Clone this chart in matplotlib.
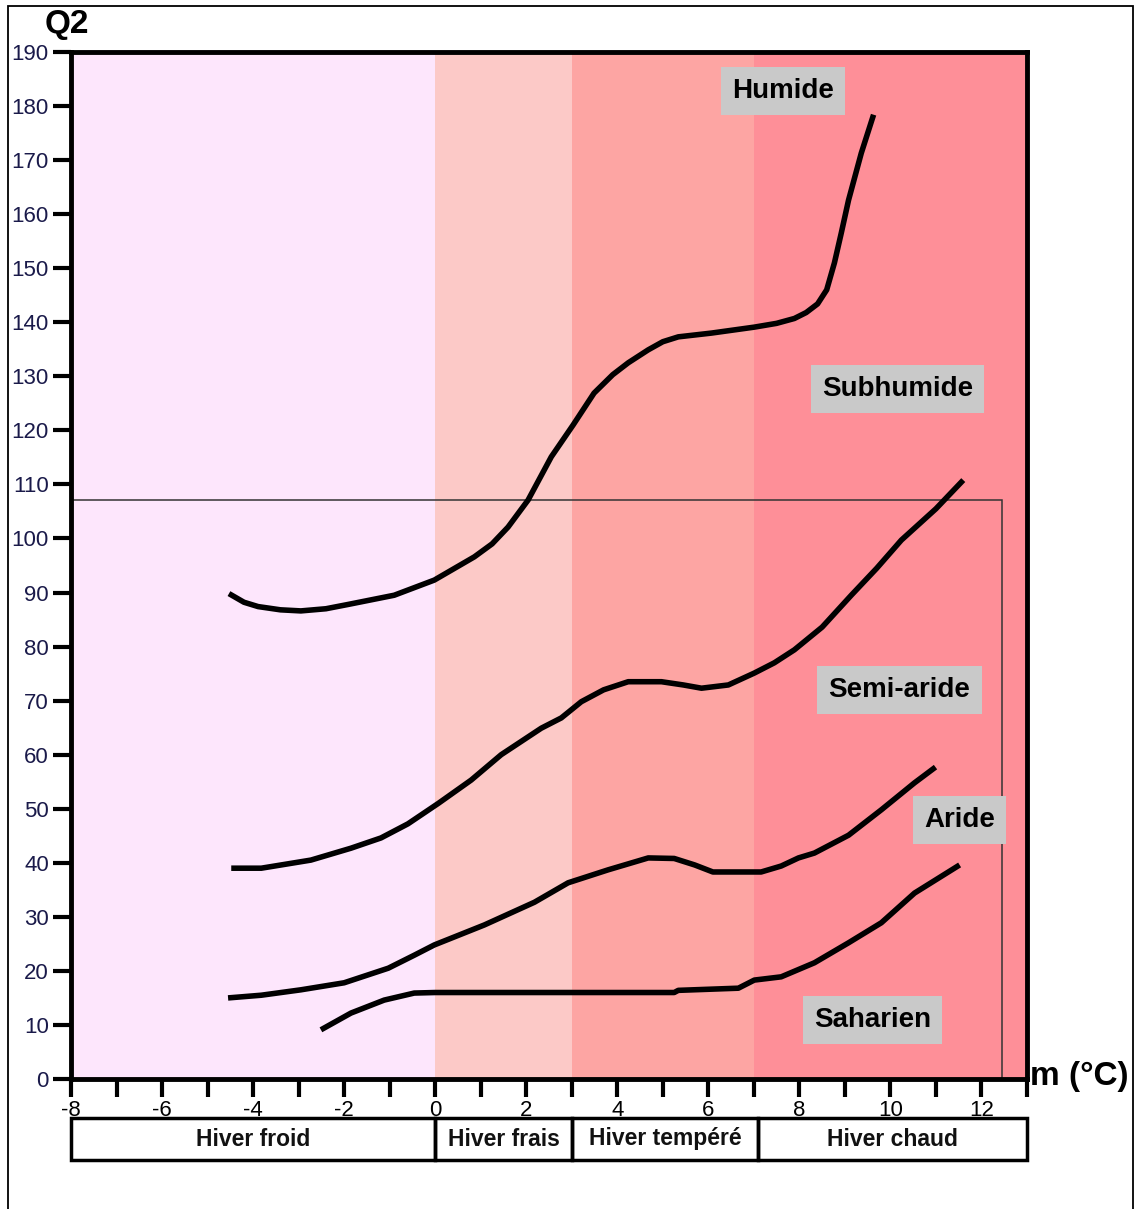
import matplotlib.pyplot as plt
import matplotlib.transforms as mtransforms
from matplotlib.patches import Rectangle

plt.rcParams['font.family'] = ['Liberation Sans', 'DejaVu Sans']

# boundary curves of the climagram, m (°C) against Q2
humide_m = [-4.53, -4.2, -3.89, -3.4, -2.95, -2.4, -1.91, -0.90, -0.02, 0.86, 1.25, 1.60,
            2.04, 2.55, 3.03, 3.49, 3.90, 4.24, 4.68, 5.0, 5.34, 6.07, 7.01, 7.50, 7.89,
            8.15, 8.40, 8.60, 8.77, 8.92, 9.08, 9.36, 9.63]
humide_q2 = [89.8, 88.2, 87.4, 86.8, 86.6, 87.0, 87.8, 89.5, 92.3, 96.6, 99.0, 102.1,
             107.1, 115.1, 121.0, 126.9, 130.3, 132.5, 134.9, 136.4, 137.3, 138.0, 139.1,
             139.8, 140.7, 141.8, 143.4, 146.0, 151.0, 156.5, 162.6, 171.3, 178.4]

subhumide_m = [-4.48, -3.82, -2.73, -1.85, -1.19, -0.60, 0.07, 0.79, 1.45, 2.33, 2.77,
               3.21, 3.70, 4.24, 4.97, 5.45, 5.85, 6.44, 7.01, 7.45, 7.89, 8.50, 9.14,
               9.70, 10.24, 11.0, 11.6]
subhumide_q2 = [39.0, 39.0, 40.5, 42.7, 44.6, 47.2, 51.0, 55.3, 60.0, 64.9, 66.8,
                69.8, 72.0, 73.5, 73.5, 72.9, 72.3, 72.9, 75.1, 77.0, 79.4, 83.6, 89.5,
                94.5, 99.7, 105.5, 110.8]

semiaride_m = [-4.55, -3.82, -2.95, -2.0, -1.03, -0.46, -0.02, 1.08, 2.18, 2.92, 3.80,
               4.68, 5.25, 5.70, 6.10, 7.16, 7.60, 7.98, 8.33, 9.08, 9.80, 10.53, 10.99]
semiaride_q2 = [15.0, 15.5, 16.5, 17.8, 20.5, 22.9, 24.8, 28.5, 32.7, 36.3, 38.7,
                40.9, 40.8, 39.6, 38.3, 38.3, 39.4, 40.9, 41.8, 45.1, 49.8, 54.8, 57.7]

aride_m = [-2.51, -1.85, -1.12, -0.46, 0.0, 3.65, 5.25, 5.34, 6.66, 7.01, 7.60, 8.33,
           9.08, 9.80, 10.53, 11.52]
aride_q2 = [9.1, 12.2, 14.6, 15.9, 16.0, 16.0, 16.0, 16.4, 16.8, 18.3, 18.9, 21.5,
            25.2, 28.9, 34.4, 39.6]

curves = [(humide_m, humide_q2), (subhumide_m, subhumide_q2),
          (semiaride_m, semiaride_q2), (aride_m, aride_q2)]

# winter variants
winter_edges = [-8, 0, 3, 7, 13]
winter_colors = ['#FDE6FC', '#FCC9C7', '#FDA5A3', '#FE8F98']
winter_labels = ['Hiver froid', 'Hiver frais', 'Hiver tempéré', 'Hiver chaud']
winter_box_edges = [-8, 0, 3, 7.1, 13]

# bioclimatic stages
stage_names = ['Humide', 'Subhumide', 'Semi-aride', 'Aride', 'Saharien']
stage_m = [7.65, 10.15, 10.20, 11.52, 9.60]
stage_q2 = [182.8, 127.7, 72.0, 47.9, 10.9]

W, H = 1136, 1209
fig = plt.figure(figsize=(W / 100, H / 100), dpi=100)
ax = fig.add_axes([71 / W, 1 - 1079 / H, (1027 - 71) / W, (1079 - 52) / H])

for i in range(len(winter_colors)):
    ax.axvspan(winter_edges[i], winter_edges[i + 1], color=winter_colors[i], lw=0, zorder=0)

ax.add_patch(Rectangle((-8, 0), 20.45, 107.2, fill=False, lw=1.1, ec='#333333', zorder=2))

for m, q2 in curves:
    ax.plot(m, q2, color='black', lw=4.0, solid_joinstyle='round',
            solid_capstyle='butt', zorder=3)

for name, x, y in zip(stage_names, stage_m, stage_q2):
    ax.text(x, y, name, ha='center', va='center', fontsize=20, fontweight='bold',
            bbox=dict(boxstyle='square,pad=0.4', fc='#C9C9C9', ec='none'), zorder=4)

ax.set_xlim(-8, 13)
ax.set_ylim(0, 190)
ax.set_xticks(range(-8, 14))
ax.set_xticklabels([str(v) if v % 2 == 0 else '' for v in range(-8, 14)])
ax.set_yticks(range(0, 191, 10))
ax.tick_params(axis='x', length=13, width=3, labelsize=16, pad=2)
ax.tick_params(axis='y', length=13, width=3, labelsize=16, pad=3, labelcolor='#1a1a4a')
for s in ax.spines.values():
    s.set_linewidth(3.5)

# winter boxes under the axis
trans = mtransforms.blended_transform_factory(ax.transData, ax.transAxes)
box_bottom = (1079 - 1160) / 1027
box_top = (1079 - 1118) / 1027
for i, lab in enumerate(winter_labels):
    x0, x1 = winter_box_edges[i], winter_box_edges[i + 1]
    ax.add_patch(Rectangle((x0, box_bottom), x1 - x0, box_top - box_bottom, transform=trans,
                           fill=False, ec='black', lw=2.5, clip_on=False))
    ax.text((x0 + x1) / 2, (box_bottom + box_top) / 2, lab, transform=trans,
            ha='center', va='center', fontsize=16.5, fontweight='bold', color='#111111')

fig.text(67 / W, 1 - 25 / H, 'Q2', ha='center', va='center', fontsize=24, fontweight='bold')
fig.text(1030 / W, 1 - 1077 / H, 'm (°C)', ha='left', va='center', fontsize=24,
         fontweight='bold')

fig.patches.append(Rectangle((8 / W, -0.01), (1133 - 8) / W, 1.01 - 6 / H,
                             transform=fig.transFigure, fill=False, ec='black', lw=1.3))

fig.savefig('out.png', dpi=100)
